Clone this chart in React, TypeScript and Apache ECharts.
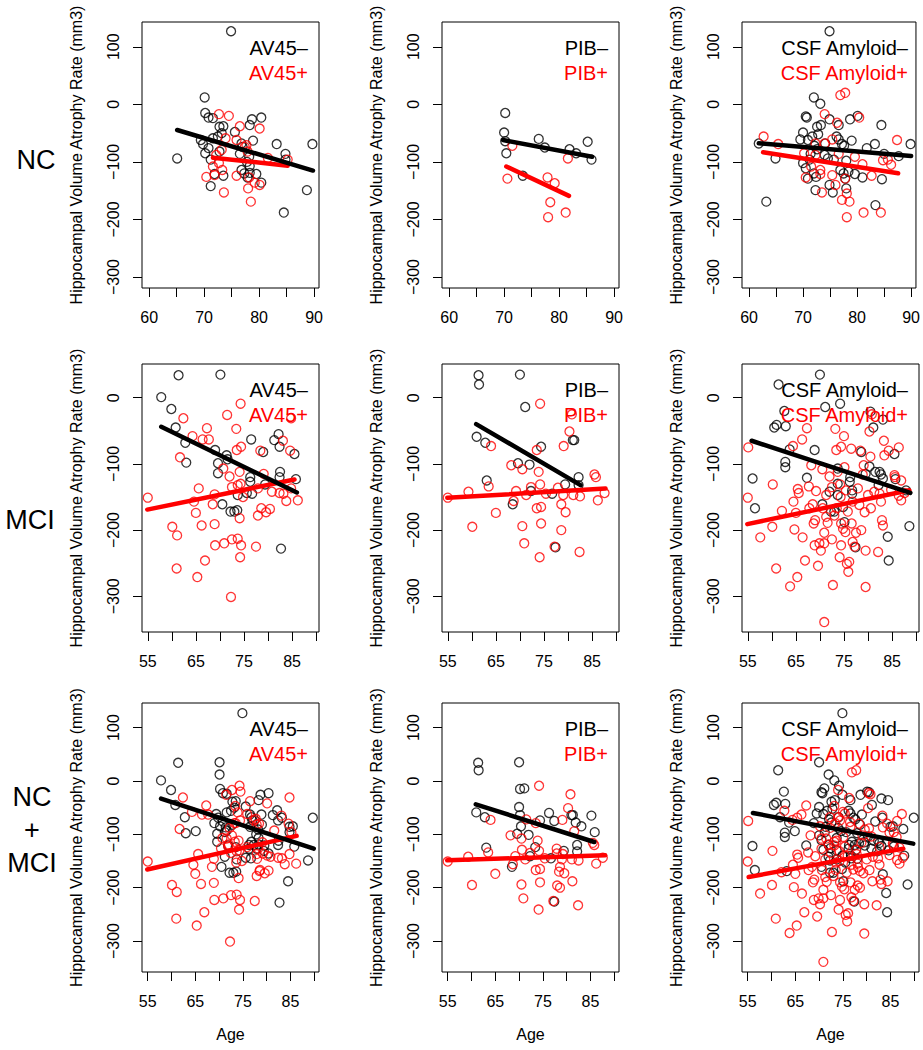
import React, { useEffect, useRef } from "react";
import * as echarts from "echarts";

// ---------- data: [age, hippocampal atrophy rate] ----------
const ncAv45Neg = [[74.9,127],[70.1,12],[70.2,-15],[70.8,-23],[71.6,-24],[72.8,-39],[73.5,-38],[73.2,-50],[75.6,-48],[78.7,-26],[80.4,-23],[78.3,-36],[83.2,-69],[89.7,-69],[65.1,-94],[69.4,-62],[69.8,-69],[70.2,-85],[70.8,-76],[71.2,-96],[71.6,-59],[72.5,-56],[72.8,-82],[71.2,-142],[71.9,-121],[73.5,-124],[76.8,-68],[77,-74],[78.9,-63],[76.5,-86],[78.2,-91],[77.8,-100],[78.3,-107],[76.8,-114],[77.3,-120],[77.9,-127],[78.3,-119],[79.5,-121],[80.4,-136],[84.8,-86],[84.5,-188],[88.7,-149],[84.8,-96]];
const ncAv45Pos = [[72.7,-17],[74.5,-20],[76.5,-38],[80.1,-42],[75.9,-62],[73.9,-59],[77.7,-71],[77.4,-74],[77.9,-82],[73.2,-79],[72.2,-88],[72.7,-102],[71.6,-108],[71.9,-123],[70.4,-126],[73.3,-114],[75.9,-124],[78.2,-127],[79.2,-136],[80.1,-140],[78,-146],[73.6,-153],[78.5,-169],[81.6,-93],[85.2,-96]];
const ncPibNeg = [[70.2,-15],[70,-49],[70.2,-64],[70.4,-85],[76.3,-60],[77.4,-75],[81.9,-78],[83.1,-85],[85.2,-65],[85.9,-96],[73.4,-124]];
const ncPibPos = [[71.5,-72],[70.6,-129],[77.9,-127],[79.2,-137],[78.4,-170],[78,-196],[81.2,-188],[81.6,-94]];
const ncCsfNeg = [[74.9,127],[72,12],[73.2,1],[70.5,-21],[70.7,-23],[80.1,-20],[78.7,-26],[74.9,-26],[84.5,-36],[76.6,-36],[73.3,-36],[72.6,-39],[70,-49],[69.5,-61],[70.9,-62],[71.7,-56],[72.8,-52],[76.2,-56],[76.6,-61],[79,-63],[77.2,-69],[77.6,-72],[74.1,-68],[83.3,-69],[81.8,-76],[89.9,-69],[61.8,-68],[72.1,-72],[72.6,-78],[70,-102],[71.2,-96],[74,-88],[74.6,-94],[75.7,-96],[78,-98],[71.4,-86],[70.5,-111],[70.9,-129],[72,-120],[72.4,-126],[76.9,-114],[77.5,-120],[78.4,-117],[77.8,-129],[79.6,-121],[81,-127],[84.6,-130],[72.3,-149],[74.9,-140],[75.5,-153],[78,-146],[83.4,-175],[64.9,-94],[63.2,-169],[85,-86],[87.7,-90]];
const ncCsfPos = [[62.7,-56],[65.4,-69],[74,-17],[76.9,16],[77.8,20],[80.4,-23],[76.3,-32],[87.4,-62],[74,-68],[75.4,-61],[72.3,-68],[70.2,-85],[72.3,-88],[76.6,-86],[79.6,-91],[84.8,-97],[85.7,-96],[86.3,-105],[81,-104],[71.5,-108],[73.2,-114],[73.2,-121],[75.4,-123],[77.8,-129],[82.7,-124],[70.5,-127],[73.5,-153],[76,-140],[78.1,-155],[77.2,-166],[78.6,-169],[78.1,-196],[81.2,-188],[84.4,-188]];

const mciAv45Neg = [[61.4,34],[70.1,35],[57.8,1],[59.9,-17],[60.8,-45],[62.8,-68],[63,-98],[69,-79],[69.6,-99],[69.6,-114],[71.4,-87],[71.6,-93],[76.5,-63],[79,-82],[81.3,-64],[82.2,-55],[82.4,-74],[82.5,-112],[82.4,-120],[85.5,-85],[85.8,-123],[76.3,-120],[76.3,-127],[79.4,-131],[76.7,-145],[75.6,-144],[73.7,-147],[70.5,-161],[72.2,-172],[73,-172],[73.6,-170],[82.7,-228]];
const mciAv45Pos = [[74.3,-9],[71.5,-26],[62.4,-31],[84.8,-31],[73.4,-47],[67.3,-46],[64.3,-58],[66.4,-63],[67.7,-63],[74.4,-74],[73.5,-79],[83.1,-65],[61.7,-90],[70.7,-107],[74.1,-112],[78.4,-80],[84.6,-80],[72,-119],[73.7,-132],[72.5,-135],[74.3,-130],[79.1,-115],[65.6,-137],[55,-151],[68.9,-146],[64.6,-157],[68.5,-161],[74.8,-150],[77.9,-137],[80.8,-142],[82.4,-144],[83.2,-145],[83.8,-156],[86.2,-155],[84.8,-137],[65,-174],[74.1,-182],[78.6,-167],[79.6,-173],[80.4,-168],[77.9,-178],[60.1,-195],[61.1,-208],[66.2,-193],[68.9,-191],[69,-223],[70.9,-220],[72.5,-214],[73.7,-213],[74.4,-223],[74.2,-241],[77.5,-225],[61,-258],[66.9,-246],[65.3,-271],[72.3,-301]];
const mciPibNeg = [[61.4,34],[61.5,20],[70,35],[71.1,-14],[61,-59],[62.8,-68],[74.4,-74],[81,-64],[81.3,-64],[63.1,-125],[69.6,-99],[72,-101],[68.5,-161],[72.3,-141],[76.7,-145],[79.4,-131],[82.2,-120],[82.2,-132],[77.4,-226]];
const mciPibPos = [[74.2,-9],[80.8,-25],[80.3,-51],[64,-73],[79.1,-73],[73.5,-79],[68.2,-102],[70.5,-108],[73.9,-112],[85.5,-116],[85.8,-120],[63.5,-134],[74.2,-131],[59.3,-142],[69.2,-141],[71.3,-147],[72.3,-135],[75.4,-145],[77.9,-136],[79,-147],[81.1,-147],[82.5,-149],[86.2,-155],[87.6,-144],[55,-151],[68.7,-156],[73.5,-167],[74.4,-165],[78.6,-161],[79.5,-173],[65,-174],[60.1,-195],[70.5,-194],[74.4,-190],[78.6,-200],[70.9,-220],[77.2,-225],[82.4,-233],[74.1,-241]];
const mciCsfNeg = [[70,35],[61.4,20],[71.1,-14],[74.2,-9],[80.5,-21],[81.1,-45],[83.1,-33],[60.5,-45],[61,-41],[62.6,-20],[62.9,-43],[63.7,-78],[68.9,-79],[62.8,-97],[62.8,-105],[67.3,-121],[56,-122],[56.5,-167],[73.7,-107],[78.6,-82],[80.3,-104],[79.5,-115],[81.5,-112],[82.4,-112],[82.7,-116],[83.1,-122],[82.2,-132],[85.5,-85],[85.7,-123],[87.9,-140],[76.3,-120],[76.2,-127],[76.7,-145],[76.7,-140],[73.7,-130],[73.7,-147],[72,-142],[74.8,-165],[70.5,-161],[72.3,-172],[73,-172],[75.1,-188],[77.4,-226],[84.1,-210],[84.3,-246],[88.6,-194]];
const mciCsfPos = [[55.1,-75],[55,-151],[57.6,-211],[60.1,-195],[60.2,-131],[60.9,-258],[62.1,-171],[63.8,-285],[64.4,-73],[64.5,-157],[64.7,-199],[65,-174],[65.3,-271],[65.4,-138],[65.6,-144],[66.3,-63],[66.4,-211],[66.9,-246],[67.3,-46],[67.7,-134],[67.8,-167],[68.2,-102],[68.5,-161],[68.7,-190],[69,-185],[68.9,-223],[69.2,-141],[69.6,-254],[69.9,-220],[70.2,-231],[70.5,-108],[70.6,-167],[70.9,-220],[70.9,-204],[71.3,-180],[71.3,-147],[70.9,-339],[71.6,-189],[72,-119],[72.5,-214],[72.5,-135],[72.7,-283],[73,-178],[73.2,-47],[73.4,-79],[73.5,-167],[73.7,-112],[74.1,-241],[74.2,-131],[74.3,-150],[74.4,-74],[74.4,-190],[74.4,-223],[74.8,-198],[75,-58],[75.1,-105],[75.3,-203],[75.4,-140],[75.6,-251],[75.8,-172],[75.9,-263],[76.1,-248],[76.5,-77],[76.8,-157],[76.6,-190],[76.8,-218],[77.2,-225],[77.5,-204],[77.9,-137],[78.2,-162],[78.4,-80],[78.6,-200],[78.9,-116],[79.1,-102],[79.3,-173],[79.5,-231],[79.5,-286],[80,-147],[80.3,-51],[80.5,-89],[80.6,-167],[80.8,-25],[81.3,-142],[82.1,-233],[82.4,-145],[82.7,-157],[82.9,-185],[83.1,-193],[83.3,-65],[83.4,-87],[84.3,-80],[84.8,-139],[85.5,-117],[85.6,-120],[86.4,-75],[86.4,-148],[86.9,-155],[86.9,-125],[87.6,-144]];

// NC + MCI combines both groups
const allAv45Neg = ncAv45Neg.concat(mciAv45Neg);
const allAv45Pos = ncAv45Pos.concat(mciAv45Pos);
const allPibNeg = ncPibNeg.concat(mciPibNeg);
const allPibPos = ncPibPos.concat(mciPibPos);
const allCsfNeg = ncCsfNeg.concat(mciCsfNeg);
const allCsfPos = ncCsfPos.concat(mciCsfPos);

// fitted regression line end points
const fitNcAv45Neg = [[65.1,-44.6],[89.8,-115]];
const fitNcAv45Pos = [[71.6,-92.6],[85.2,-106.5]];
const fitNcPibNeg = [[69.8,-62],[86,-91]];
const fitNcPibPos = [[70.4,-108],[81.8,-159]];
const fitNcCsfNeg = [[61.8,-67.7],[90,-89.7]];
const fitNcCsfPos = [[62.6,-83.3],[87.6,-119.8]];
const fitMciAv45Neg = [[57.8,-43.9],[86,-143.2]];
const fitMciAv45Pos = [[54.9,-169],[85.5,-123.5]];
const fitMciPibNeg = [[60.9,-39.8],[82.6,-132.1]];
const fitMciPibPos = [[54.9,-151.3],[87.8,-137.2]];
const fitMciCsfNeg = [[55.8,-65],[88.8,-143.7]];
const fitMciCsfPos = [[54.9,-191],[88.6,-139.7]];
const fitAllAv45Neg = [[57.8,-33.1],[89.9,-126.9]];
const fitAllAv45Pos = [[54.9,-166],[86.3,-103]];
const fitAllPibNeg = [[60.9,-43.8],[85.8,-114.4]];
const fitAllPibPos = [[54.9,-148.8],[88.1,-139.4]];
const fitAllCsfNeg = [[56.1,-60],[89.8,-117.5]];
const fitAllCsfPos = [[55.2,-180],[87.7,-126.9]];

const rowLabels = [["NC"], ["MCI"], ["NC", "+", "MCI"]];
const legendNeg = ["AV45\u2013", "PIB\u2013", "CSF Amyloid\u2013"];
const legendPos = ["AV45+", "PIB+", "CSF Amyloid+"];
const xTicksRow1 = [60, 65, 70, 75, 80, 85, 90];
const xLabelsRow1 = [60, 70, 80, 90];
const xTicksRow23 = [55, 60, 65, 70, 75, 80, 85, 90];
const xLabelsRow23 = [55, 65, 75, 85];
const yTicksTop = [-300, -200, -100, 0, 100];
const yTicksMid = [-300, -200, -100, 0];
const yTitle = "Hippocampal Volume Atrophy Rate (mm3)";
const xTitle = "Age";

const panelNeg = [
  [ncAv45Neg, ncPibNeg, ncCsfNeg],
  [mciAv45Neg, mciPibNeg, mciCsfNeg],
  [allAv45Neg, allPibNeg, allCsfNeg],
];
const panelPos = [
  [ncAv45Pos, ncPibPos, ncCsfPos],
  [mciAv45Pos, mciPibPos, mciCsfPos],
  [allAv45Pos, allPibPos, allCsfPos],
];
const panelFitNeg = [
  [fitNcAv45Neg, fitNcPibNeg, fitNcCsfNeg],
  [fitMciAv45Neg, fitMciPibNeg, fitMciCsfNeg],
  [fitAllAv45Neg, fitAllPibNeg, fitAllCsfNeg],
];
const panelFitPos = [
  [fitNcAv45Pos, fitNcPibPos, fitNcCsfPos],
  [fitMciAv45Pos, fitMciPibPos, fitMciCsfPos],
  [fitAllAv45Pos, fitAllPibPos, fitAllCsfPos],
];

// ---------- layout ----------
const FONT = "'Liberation Sans', Arial, Helvetica, sans-serif";
const colLeft = [142, 442, 742];
const boxW = 177;
const rowTop = [22, 364, 703];
const rowH = [266, 268, 269];
const xRange = [[58.7, 90.9], [53.8, 90.6], [53.8, 91]];
const yRange = [[-319, 143], [-354, 51], [-358, 146]];
const rowLabelPos = [[36, 160], [30, 520], [32, 797]];

const fmt = (v: number) => (v < 0 ? "\u2212" + Math.abs(v) : String(v));

export default function App() {
  const ref = useRef<HTMLDivElement>(null);
  useEffect(() => {
    document.body.style.margin = "0";
    const chart = echarts.init(ref.current!, null, { renderer: "svg" });
    const grid: any[] = [];
    const xAxis: any[] = [];
    const yAxis: any[] = [];
    const series: any[] = [];
    const graphic: any[] = [];
    for (let r = 0; r < 3; r++) {
      for (let c = 0; c < 3; c++) {
        const idx = r * 3 + c;
        grid.push({
          left: colLeft[c], top: rowTop[r], width: boxW, height: rowH[r],
          show: true, borderColor: "#000", borderWidth: 1, backgroundColor: "transparent",
        });
        xAxis.push({
          type: "value", gridIndex: idx, min: xRange[r][0], max: xRange[r][1], position: "bottom",
          axisLine: { show: false, onZero: false }, splitLine: { show: false },
          axisTick: { show: true, length: 9, customValues: r === 0 ? xTicksRow1 : xTicksRow23, lineStyle: { color: "#000", width: 1 } },
          axisLabel: { customValues: r === 0 ? xLabelsRow1 : xLabelsRow23, margin: 21, fontSize: 16, color: "#000", fontFamily: FONT },
          name: r === 2 ? xTitle : "", nameLocation: "middle", nameGap: 54,
          nameTextStyle: { fontSize: 16, color: "#000", fontFamily: FONT },
        });
        yAxis.push({
          type: "value", gridIndex: idx, min: yRange[r][0], max: yRange[r][1], position: "left",
          axisLine: { show: false, onZero: false }, splitLine: { show: false },
          axisTick: { show: true, length: 9, customValues: r === 1 ? yTicksMid : yTicksTop, lineStyle: { color: "#000", width: 1 } },
          axisLabel: { customValues: r === 1 ? yTicksMid : yTicksTop, rotate: 90, margin: 21, fontSize: 16, color: "#000", fontFamily: FONT, formatter: fmt },
          name: yTitle, nameLocation: "middle", nameRotate: 90, nameGap: 58,
          nameTextStyle: { fontSize: 16, color: "#000", fontFamily: FONT },
        });
        const pts = (data: number[][], color: string) => ({
          type: "scatter", xAxisIndex: idx, yAxisIndex: idx, data,
          symbol: "circle", symbolSize: 9,
          itemStyle: { color: "transparent", borderColor: color, borderWidth: 1.3 },
          emphasis: { disabled: true }, z: 2,
        });
        const fit = (data: number[][], color: string, z: number) => ({
          type: "line", xAxisIndex: idx, yAxisIndex: idx, data,
          symbol: "none", lineStyle: { color, width: 4.5, cap: "round" }, z,
        });
        series.push(pts(panelNeg[r][c], "#000"));
        series.push(pts(panelPos[r][c], "#ff0000"));
        series.push(fit(panelFitPos[r][c], "#ff0000", 3));
        series.push(fit(panelFitNeg[r][c], "#000", 4));
        const right = colLeft[c] + boxW - 11;
        graphic.push({
          type: "text", x: right, y: rowTop[r] + 26, z: 100,
          style: { text: legendNeg[c], fill: "#000", font: `20px ${FONT}`, textAlign: "right", textVerticalAlign: "middle" },
        });
        graphic.push({
          type: "text", x: right, y: rowTop[r] + 51, z: 100,
          style: { text: legendPos[c], fill: "#ff0000", font: `20px ${FONT}`, textAlign: "right", textVerticalAlign: "middle" },
        });
      }
      rowLabels[r].forEach((t, i) => {
        graphic.push({
          type: "text", x: rowLabelPos[r][0], y: rowLabelPos[r][1] + i * 33, z: 100,
          style: { text: t, fill: "#000", font: `27px ${FONT}`, textAlign: "center", textVerticalAlign: "middle" },
        });
      });
    }
    chart.setOption({
      animation: false,
      backgroundColor: "#fff",
      grid, xAxis, yAxis, series, graphic,
    });
    return () => chart.dispose();
  }, []);
  return <div ref={ref} style={{ width: 923, height: 1050 }} />;
}
